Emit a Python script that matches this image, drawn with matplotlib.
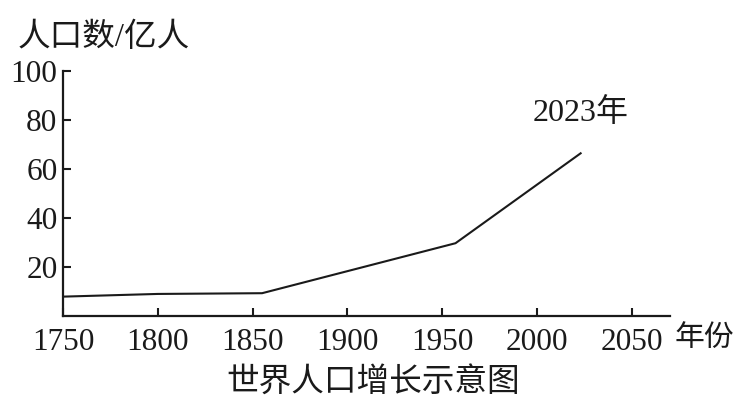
import matplotlib
matplotlib.use("Agg")
import matplotlib.pyplot as plt

plt.rcParams['font.family'] = ['Liberation Serif', 'Noto Sans CJK SC', 'DejaVu Sans']

years = [1750, 1800, 1855, 1957, 2023]
population = [7.9, 9.0, 9.3, 29.7, 66.4]
x_ticks = [1750, 1800, 1850, 1900, 1950, 2000, 2050]
y_ticks = [20, 40, 60, 80, 100]

fig = plt.figure(figsize=(7.5, 4.01), dpi=100)
ax = fig.add_axes([0.084, 0.212, 0.809, 0.611])

ax.plot(years, population, color='#1a1a1a', lw=1.5)
ax.set_xlim(1750, 2070)
ax.set_ylim(0, 100)
ax.set_xticks(x_ticks)
ax.set_yticks(y_ticks)

for s in ['top', 'right']:
    ax.spines[s].set_visible(False)
for s in ['left', 'bottom']:
    ax.spines[s].set_linewidth(1.6)
    ax.spines[s].set_color('#1a1a1a')

ax.tick_params(axis='both', direction='in', length=6, width=1.5,
               labelsize=22.5, colors='#1a1a1a')
ax.tick_params(axis='x', pad=9)
ax.tick_params(axis='y', pad=4)

ax.text(2023, 83, '2023年', ha='center', va='center', fontsize=23, color='#1a1a1a')

fig.text(0.024, 0.905, '人口数/亿人', ha='left', va='center', fontsize=23.5, color='#1a1a1a')
fig.text(0.900, 0.157, '年份', ha='left', va='center', fontsize=21.5, color='#1a1a1a')
fig.text(0.497, 0.047, '世界人口增长示意图', ha='center', va='center', fontsize=23.5, color='#1a1a1a')

fig.savefig('out.png', dpi=100)
